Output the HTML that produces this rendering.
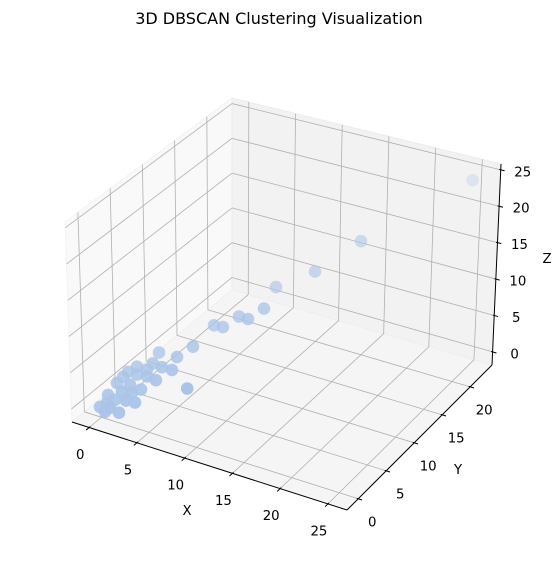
<!DOCTYPE html>
<html><head><meta charset="utf-8"><style>
html,body{margin:0;padding:0;background:#fff;}
svg{display:block;font-family:"DejaVu Sans","Liberation Sans",sans-serif;}
</style></head><body>
<svg id="chart" width="558" height="581" viewBox="0 0 558 581">
<text x="279" y="24" text-anchor="middle" font-size="16" fill="#000">3D DBSCAN Clustering Visualization</text>
<g id="panes"></g>
<g id="grid"></g>
<g id="axes"></g>
<g id="points"></g>
<text x="187" y="515" text-anchor="middle" font-size="13.3">X</text>
<text x="458" y="474" text-anchor="middle" font-size="13.3">Y</text>
<text x="547" y="263" text-anchor="middle" font-size="13.3">Z</text>
</svg>
<script>
const xTicks=[0,5,10,15,20,25];
const yTicks=[0,5,10,15,20];
const zTicks=[0,5,10,15,20,25];
const xs=[10.35,10.94,8.71,9.94,6.56,7.7,5.85,4.85,2.47,8.41,5.29,3.95,2.65,2.45,1.11,0.5,4.28,1.73,2.99,0.33,0.12,1.72,3.32,2.55,1.37,0.05,1.21,2.5,3.65,0.55,0.09,1.27,2.65,1.02,13.44,16.2,24.3];
const ys=[12.77,9.87,9.21,8.79,8.43,8.13,6.07,4.99,5.72,1.09,3.47,3.9,4.45,3.77,4.2,3.67,2.39,3.25,2.94,3.11,2.43,2.1,1.42,1.13,1.32,1.06,0.41,0.22,-0.09,0.11,-0.32,-0.51,-1.17,-0.95,14.4,17.7,23.5];
const zs=[11.1,10.4,8.96,9.37,7.5,7.9,5.96,4.92,4.1,4.75,4.38,3.93,3.55,3.11,2.66,2.09,3.34,2.49,2.96,1.72,1.28,1.91,2.37,1.84,1.35,0.56,0.81,1.36,1.78,0.33,-0.11,0.38,0.74,0.04,13.2,16.0,23];

const X0=-1.8,X1=27,Y0=-2,Y1=23.9,Z0=-1.8,Z1=25.8;
const C={c000:[72,422],c100:[347,510],c110:[492,365],c010:[232,290],c001:[65,222],c101:[349,295],c111:[501,164],c011:[232,98]};
function lerp(a,b,t){return [a[0]+(b[0]-a[0])*t,a[1]+(b[1]-a[1])*t];}
function P(x,y,z){
  const u=(x-X0)/(X1-X0),v=(y-Y0)/(Y1-Y0),w=(z-Z0)/(Z1-Z0);
  const b0=lerp(C.c000,C.c100,u),b1=lerp(C.c010,C.c110,u);
  const t0=lerp(C.c001,C.c101,u),t1=lerp(C.c011,C.c111,u);
  const b=lerp(b0,b1,v),t=lerp(t0,t1,v);
  return lerp(b,t,w);
}
const NS="http://www.w3.org/2000/svg";
function mk(tag,attrs,parent){const e=document.createElementNS(NS,tag);for(const k in attrs)e.setAttribute(k,attrs[k]);parent.appendChild(e);return e;}
function poly(pts){return pts.map(p=>p[0].toFixed(1)+","+p[1].toFixed(1)).join(" ");}
const panes=document.getElementById('panes'),grid=document.getElementById('grid'),axes=document.getElementById('axes'),ptsG=document.getElementById('points');

let e;
e=mk('polygon',{points:poly([P(X0,Y0,Z0),P(X0,Y1,Z0),P(X0,Y1,Z1),P(X0,Y0,Z1)]),fill:'#f9f9f9',stroke:'#f3f3f3','stroke-width':1},panes);


e=mk('polygon',{points:poly([P(X0,Y1,Z0),P(X1,Y1,Z0),P(X1,Y1,Z1),P(X0,Y1,Z1)]),fill:'#f2f2f2',stroke:'#ececec','stroke-width':1},panes);


e=mk('polygon',{points:poly([P(X0,Y0,Z0),P(X1,Y0,Z0),P(X1,Y1,Z0),P(X0,Y1,Z0)]),fill:'#f5f5f5',stroke:'#efefef','stroke-width':1},panes);



function gl(a,b,name){const l=mk('line',{x1:a[0],y1:a[1],x2:b[0],y2:b[1],stroke:'#b0b0b0','stroke-width':0.8},grid);

}
xTicks.forEach(t=>{gl(P(t,Y0,Z0),P(t,Y1,Z0),'x-grid-floor');gl(P(t,Y1,Z0),P(t,Y1,Z1),'x-grid-back');});
yTicks.forEach(t=>{gl(P(X0,t,Z0),P(X1,t,Z0),'y-grid-floor');gl(P(X0,t,Z0),P(X0,t,Z1),'y-grid-left');});
zTicks.forEach(t=>{gl(P(X0,Y0,t),P(X0,Y1,t),'z-grid-left');gl(P(X0,Y1,t),P(X1,Y1,t),'z-grid-back');});

function al(a,b,name){const l=mk('line',{x1:a[0],y1:a[1],x2:b[0],y2:b[1],stroke:'#000','stroke-width':1},axes);

}
al(P(X0,Y0,Z0),P(X1,Y0,Z0),'x-axis-line');
al(P(X1,Y0,Z0),P(X1,Y1,Z0),'y-axis-line');
al(P(X1,Y1,Z0),P(X1,Y1,Z1),'z-axis-line');
function tick(base,other,lab,off,name){
  let dx=other[0]-base[0],dy=other[1]-base[1];const n=Math.hypot(dx,dy);dx/=n;dy/=n;
  const l=mk('line',{x1:base[0]-1.5*dx,y1:base[1]-1.5*dy,x2:base[0]+4*dx,y2:base[1]+4*dy,stroke:'#000','stroke-width':1},axes);
  
  
  const t=mk('text',{x:base[0]+off[0],y:base[1]+off[1]+4.5,'text-anchor':'middle','font-size':13.3,fill:'#000'},axes);
  t.textContent=lab;
  
  
}
xTicks.forEach(t=>tick(P(t,Y0,Z0),P(t,Y0-1,Z0),t,[-9,27],'x'));
yTicks.forEach(t=>tick(P(X1,t,Z0),P(X1+1,t,Z0),t,[14,23],'y'));
zTicks.forEach(t=>tick(P(X1,Y1,t),P(X1+1,Y1,t),t,[22,2],'z'));

const idx=xs.map((_,i)=>i);
const near=i=>0.5*(xs[i]-X0)/(X1-X0)-0.87*(ys[i]-Y0)/(Y1-Y0);
const nv=idx.map(near),nmin=Math.min(...nv),nmax=Math.max(...nv);
idx.sort((a,b)=>nv[a]-nv[b]);
idx.forEach(i=>{
  const p=P(xs[i],ys[i],zs[i]);
  const f=(nv[i]-nmin)/(nmax-nmin);
  const a=0.3+0.7*Math.sqrt(f);
  const c=mk('circle',{cx:p[0].toFixed(1),cy:p[1].toFixed(1),r:6.3,fill:'rgb(170,196,232)','fill-opacity':a.toFixed(2)},ptsG);
  
  
});
</script>
</body></html>
